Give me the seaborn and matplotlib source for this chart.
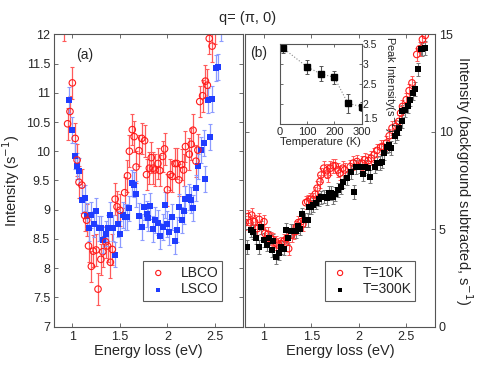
import numpy as np
import matplotlib
matplotlib.use("Agg")
import matplotlib.pyplot as plt
import seaborn as sns

# panel (a): LBCO (red circles) and LSCO (blue squares)
lbco_e = [0.91, 0.95, 0.975, 1.00, 1.03, 1.05, 1.07, 1.10, 1.13, 1.15, 1.17, 1.20, 1.22, 1.25,
          1.27, 1.30, 1.32, 1.35, 1.37, 1.40, 1.42, 1.45, 1.47, 1.50, 1.55, 1.58, 1.60, 1.63,
          1.65, 1.67, 1.70, 1.73, 1.76, 1.78, 1.81, 1.83, 1.85, 1.87, 1.90, 1.92, 1.95, 1.97,
          2.00, 2.03, 2.05, 2.08, 2.10, 2.12, 2.15, 2.17, 2.19, 2.23, 2.25, 2.27, 2.30, 2.32,
          2.34, 2.37, 2.40, 2.42, 2.44, 2.47, 2.50]
lbco_i = [12.15, 10.47, 10.68, 11.17, 10.22, 9.85, 9.47, 9.42, 8.90, 8.82, 8.38, 8.03, 8.29, 8.31,
          7.64, 8.15, 8.28, 8.45, 8.38, 8.10, 8.32, 9.18, 9.05, 8.99, 9.29, 9.58, 10.00, 10.37,
          10.25, 9.73, 10.01, 10.22, 10.18, 9.60, 9.71, 9.89, 9.71, 9.68, 9.79, 9.67, 9.91, 10.04,
          9.34, 9.60, 9.57, 9.79, 9.79, 9.51, 9.77, 9.68, 10.08, 9.95, 10.12, 10.36, 9.83, 10.02,
          10.85, 10.95, 11.20, 11.13, 11.93, 11.80, 12.10]
lsco_e = [0.97, 1.00, 1.03, 1.05, 1.07, 1.10, 1.13, 1.15, 1.17, 1.20, 1.23, 1.25, 1.28, 1.30,
          1.32, 1.35, 1.37, 1.40, 1.43, 1.45, 1.48, 1.50, 1.53, 1.55, 1.58, 1.60, 1.63, 1.65,
          1.67, 1.70, 1.73, 1.75, 1.78, 1.80, 1.82, 1.85, 1.87, 1.90, 1.92, 1.95, 1.97, 2.00,
          2.02, 2.05, 2.08, 2.10, 2.12, 2.15, 2.17, 2.19, 2.23, 2.25, 2.27, 2.30, 2.32, 2.35,
          2.38, 2.40, 2.43, 2.45, 2.47, 2.51, 2.53, 2.56]
lsco_i = [10.88, 10.36, 9.92, 9.75, 9.66, 9.17, 9.20, 8.90, 8.68, 8.91, 8.76, 8.98, 8.68, 8.68,
          8.48, 8.59, 8.69, 8.91, 8.69, 8.23, 8.76, 8.58, 8.91, 8.88, 8.88, 9.02, 9.46, 9.43,
          9.27, 8.89, 8.70, 9.04, 8.92, 8.85, 9.06, 8.67, 8.82, 8.78, 8.55, 8.70, 9.08, 8.76,
          8.62, 8.87, 8.46, 8.66, 9.04, 8.82, 8.97, 9.18, 9.22, 9.17, 9.03, 9.37, 9.74, 10.02,
          10.14, 9.53, 10.87, 10.24, 10.90, 11.43, 11.44, 12.10]
lbco_err = 0.27
lsco_err = 0.22

# panel (b): T=10K (red circles) and T=300K (black squares)
t10_e = [0.80, 0.83, 0.85, 0.87, 0.90, 0.93, 0.95, 1.00, 1.01, 1.04, 1.07, 1.09, 1.13, 1.15,
         1.18, 1.21, 1.24, 1.26, 1.29, 1.32, 1.34, 1.36, 1.39, 1.41, 1.44, 1.46, 1.49, 1.52,
         1.54, 1.56, 1.59, 1.60, 1.63, 1.66, 1.67, 1.70, 1.73, 1.75, 1.78, 1.80, 1.83, 1.85,
         1.91, 1.94, 1.98, 2.03, 2.06, 2.10, 2.13, 2.16, 2.19, 2.23, 2.25, 2.29, 2.32, 2.35,
         2.39, 2.42, 2.44, 2.46, 2.50, 2.53, 2.56, 2.61, 2.64, 2.67, 2.70]
t10_i = [5.33, 5.64, 5.33, 5.72, 5.38, 5.03, 5.50, 5.38, 4.78, 4.74, 4.52, 4.47, 4.29, 4.18,
         4.26, 4.38, 4.52, 4.00, 4.69, 4.86, 5.09, 5.33, 5.38, 5.26, 6.36, 6.41, 6.53, 6.50,
         6.80, 7.10, 7.44, 7.78, 8.13, 8.00, 7.78, 8.13, 8.25, 8.25, 8.04, 7.87, 8.13, 8.04,
         8.21, 8.39, 8.47, 8.39, 8.56, 8.52, 8.64, 8.81, 9.04, 9.21, 9.24, 9.42, 9.79, 10.19,
         10.27, 10.53, 10.96, 11.30, 11.65, 12.11, 12.51, 13.97, 14.26, 14.74, 14.95]
t300_e = [0.82, 0.86, 0.88, 0.92, 0.95, 0.97, 1.00, 1.03, 1.05, 1.08, 1.10, 1.13, 1.16, 1.18,
          1.21, 1.23, 1.25, 1.28, 1.31, 1.34, 1.36, 1.38, 1.40, 1.43, 1.46, 1.47, 1.50, 1.52,
          1.55, 1.58, 1.60, 1.63, 1.66, 1.68, 1.71, 1.73, 1.75, 1.78, 1.81, 1.83, 1.88, 1.92,
          1.95, 1.97, 2.01, 2.04, 2.07, 2.10, 2.12, 2.17, 2.19, 2.22, 2.24, 2.27, 2.30, 2.32,
          2.34, 2.38, 2.40, 2.42, 2.45, 2.46, 2.49, 2.52, 2.54, 2.57, 2.59, 2.62, 2.65, 2.67,
          2.70]
t300_i = [4.09, 4.95, 4.86, 4.57, 4.09, 5.09, 4.43, 4.21, 4.57, 3.92, 4.38, 3.57, 3.75, 4.06,
          4.00, 4.95, 4.57, 4.90, 4.91, 4.91, 5.15, 5.03, 5.76, 5.46, 5.46, 6.15, 6.15, 6.24,
          6.36, 6.53, 6.63, 6.67, 6.58, 6.84, 6.84, 6.63, 6.80, 7.01, 7.15, 7.44, 7.61, 7.95,
          6.92, 8.18, 8.21, 7.84, 8.21, 8.13, 7.70, 8.21, 8.39, 8.39, 8.47, 8.90, 9.24, 9.33,
          9.16, 9.79, 9.93, 10.19, 10.53, 11.05, 11.13, 11.30, 11.65, 12.00, 12.20, 13.20, 14.23,
          14.23, 14.31]
t10_err = 0.35
t300_err = 0.35

# inset: peak intensity vs temperature
temps = [10, 100, 150, 200, 250, 300]
peak = [3.40, 2.92, 2.75, 2.66, 2.01, 1.93]
peak_err = [0.14, 0.17, 0.19, 0.17, 0.24, 0.12]

sns.set_style("ticks")
plt.rcParams["font.family"] = ["Liberation Sans", "DejaVu Sans"]
plt.rcParams["font.size"] = 9
plt.rcParams["xtick.direction"] = "in"
plt.rcParams["ytick.direction"] = "in"

red = "#ff1a1a"
blue = "#1f3cff"

fig = plt.figure(figsize=(4.98, 3.74), dpi=100)
ax1 = fig.add_axes([0.109, 0.127, 0.378, 0.781])
ax2 = fig.add_axes([0.492, 0.127, 0.381, 0.781])


def style_axes(ax):
    for s in ax.spines.values():
        s.set_color("#555555")
        s.set_linewidth(0.8)
    ax.tick_params(top=True, right=True, length=3, width=0.6, color="#555555",
                   labelsize=9, pad=3)


def style_legend(leg):
    leg.get_frame().set_edgecolor("#333333")
    leg.get_frame().set_linewidth(0.8)


# ---- (a)
ax1.errorbar(lbco_e, lbco_i, yerr=lbco_err, fmt="none", ecolor="#ff5a5a",
             elinewidth=0.9, capsize=1.5, capthick=0.8, zorder=1)
ax1.errorbar(lsco_e, lsco_i, yerr=lsco_err, fmt="none", ecolor="#8c9bff",
             elinewidth=0.9, capsize=1.5, capthick=0.8, zorder=1)
sns.scatterplot(x=lbco_e, y=lbco_i, ax=ax1, marker="o", s=22, facecolor="none",
                edgecolor=red, linewidth=0.8, label="LBCO", zorder=3)
sns.scatterplot(x=lsco_e, y=lsco_i, ax=ax1, marker="s", s=16, color=blue,
                edgecolor=blue, linewidth=0, label="LSCO", zorder=2)
ax1.set_xlim(0.81, 2.79)
ax1.set_ylim(7, 12)
ax1.set_xticks([1, 1.5, 2, 2.5])
ax1.set_xticklabels(["1", "1.5", "2", "2.5"])
ax1.set_yticks(np.arange(7, 12.01, 0.5))
ax1.set_yticklabels(["7", "7.5", "8", "8.5", "9", "9.5", "10", "10.5", "11", "11.5", "12"])
ax1.set_xlabel("Energy loss (eV)", fontsize=10.5, labelpad=1)
ax1.set_ylabel("Intensity (s$^{-1}$)", fontsize=10.5, labelpad=3)
ax1.text(0.16, 0.93, "(a)", transform=ax1.transAxes, ha="center", va="center", fontsize=10)
style_axes(ax1)
leg = ax1.legend(loc="lower right", bbox_to_anchor=(0.93, 0.065), frameon=True, fancybox=False,
                 fontsize=10, handletextpad=0.8, borderpad=0.3, labelspacing=0.2,
                 handlelength=1.6, markerscale=0.8)
style_legend(leg)

# ---- (b)
ax2.errorbar(t300_e, t300_i, yerr=t300_err, fmt="none", ecolor="#777777",
             elinewidth=0.8, capsize=1.5, capthick=0.7, zorder=1)
ax2.errorbar(t10_e, t10_i, yerr=t10_err, fmt="none", ecolor="#ff5a5a",
             elinewidth=0.8, capsize=1.5, capthick=0.7, zorder=1)
sns.scatterplot(x=t10_e, y=t10_i, ax=ax2, marker="o", s=22, facecolor="none",
                edgecolor=red, linewidth=0.8, label="T=10K", zorder=2)
sns.scatterplot(x=t300_e, y=t300_i, ax=ax2, marker="s", s=16, color="black",
                linewidth=0, label="T=300K", zorder=3)
ax2.set_xlim(0.8, 2.8)
ax2.set_ylim(0, 15)
ax2.set_xticks([1, 1.5, 2, 2.5])
ax2.set_xticklabels(["1", "1.5", "2", "2.5"])
ax2.set_yticks([0, 5, 10, 15])
ax2.yaxis.tick_right()
ax2.yaxis.set_label_position("right")
ax2.set_xlabel("Energy loss (eV)", fontsize=10.5, labelpad=1)
ax2.set_ylabel("Intensity (background subtracted, s$^{-1}$)", fontsize=10.5,
               rotation=270, labelpad=16)
ax2.text(0.07, 0.935, "(b)", transform=ax2.transAxes, ha="center", va="center", fontsize=10)
style_axes(ax2)
ax2.tick_params(left=True, labelleft=False, labelright=True)
leg2 = ax2.legend(loc="lower right", bbox_to_anchor=(0.935, 0.065), frameon=True,
                  fancybox=False, fontsize=10, handletextpad=0.8, borderpad=0.3,
                  labelspacing=0.2, handlelength=1.6, markerscale=0.8)
style_legend(leg2)

# ---- inset
ax3 = fig.add_axes([0.562, 0.669, 0.164, 0.214])
sns.lineplot(x=temps, y=peak, ax=ax3, color="#888888", linestyle=":", linewidth=0.8,
             zorder=1)
ax3.errorbar(temps, peak, yerr=peak_err, fmt="s", color="black", markersize=4,
             ecolor="#555555", elinewidth=0.8, capsize=1.5, capthick=0.7, zorder=2)
ax3.set_xlim(0, 300)
ax3.set_ylim(1.5, 3.5)
ax3.set_xticks([0, 100, 200, 300])
ax3.set_yticks([1.5, 2, 2.5, 3, 3.5])
ax3.set_yticklabels(["1.5", "2", "2.5", "3", "3.5"])
ax3.yaxis.tick_right()
ax3.yaxis.set_label_position("right")
ax3.set_xlabel("Temperature (K)", fontsize=8, labelpad=0)
ax3.set_ylabel("Peak Intensity(s$^{-1}$)", fontsize=8, rotation=270, labelpad=16)
for s in ax3.spines.values():
    s.set_color("#555555")
    s.set_linewidth(0.8)
ax3.tick_params(top=True, left=True, right=True, length=2, width=0.6, color="#555555",
                labelsize=8, pad=1)
ax3.tick_params(axis="y", labelsize=7.5)
ax3.tick_params(axis="x", pad=2)
ax3.get_yticklabels()[0].set_va("bottom")

fig.text(0.498, 0.952, "q= (\u03c0, 0)", ha="center", va="center", fontsize=10.5)

fig.savefig("out.png", dpi=100)
